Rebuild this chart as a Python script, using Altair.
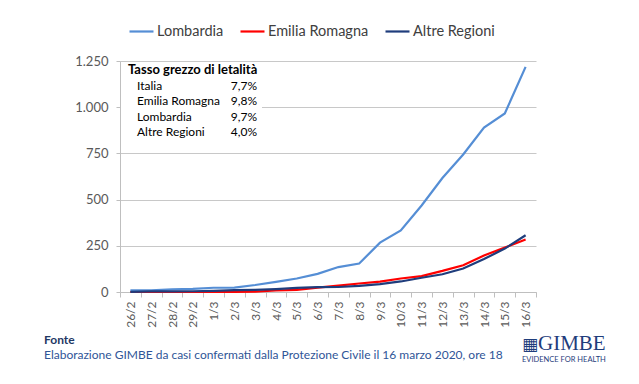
import altair as alt
import pandas as pd

# ---- data ----
dates = ["26/2", "27/2", "28/2", "29/2", "1/3", "2/3", "3/3", "4/3", "5/3", "6/3",
         "7/3", "8/3", "9/3", "10/3", "11/3", "12/3", "13/3", "14/3", "15/3", "16/3"]
series_names = ["Lombardia", "Emilia Romagna", "Altre Regioni"]
lombardia = [9, 9, 14, 17, 23, 24, 38, 55, 73, 98, 135, 154, 267, 333, 468, 617, 744, 890, 966, 1218]
emilia_romagna = [0, 0, 0, 0, 0, 0, 2, 8, 12, 24, 35, 46, 56, 73, 86, 114, 145, 198, 240, 284]
altre_regioni = [1, 3, 3, 4, 6, 10, 12, 16, 22, 26, 27, 33, 43, 57, 77, 96, 127, 178, 235, 307]
colors = ["#558ED5", "#FF0000", "#1F3D7C"]
y_ticks = [0, 250, 500, 750, 1000, 1250]

box_title = ["Tasso grezzo di letalità"]
box_labels = ["Italia", "Emilia Romagna", "Lombardia", "Altre Regioni"]
box_values = ["7,7%", "9,8%", "9,7%", "4,0%"]

source_title = ["Fonte"]
source_text = ["Elaborazione GIMBE da casi confermati dalla Protezione Civile il 16 marzo 2020, ore 18"]
logo_text = ["GIMBE"]
logo_sub = ["EVIDENCE FOR HEALTH"]
logo_icon = ["▦"]

FONT = "Lato"
AXIS_GRAY = "#BFBFBF"
TEXT_GRAY = "#404040"

rows = []
for name, vals in zip(series_names, [lombardia, emilia_romagna, altre_regioni]):
    for d, v in zip(dates, vals):
        rows.append({"data": d, "serie": name, "decessi": v})
df = pd.DataFrame(rows)

lines = alt.Chart(df).mark_line(strokeWidth=2.2).encode(
    x=alt.X("data:N", sort=dates, bandPosition=0.5,
            scale=alt.Scale(type="band", paddingInner=0, paddingOuter=0),
            axis=alt.Axis(title=None, labelAngle=-90, labelAlign="right", labelBaseline="middle",
                          tickBand="extent", grid=False, labelFont=FONT, labelFontSize=12,
                          labelColor="#595959", labelPadding=4, tickSize=5,
                          tickColor=AXIS_GRAY, domainColor=AXIS_GRAY)),
    y=alt.Y("decessi:Q", scale=alt.Scale(domain=[0, 1250], nice=False),
            axis=alt.Axis(title=None, values=y_ticks,
                          labelExpr="replace(format(datum.value, ','), ',', '.')",
                          labelFont=FONT, labelFontSize=13, labelColor="#595959",
                          labelPadding=8, tickSize=4, tickColor=AXIS_GRAY,
                          domainColor=AXIS_GRAY, gridColor="#C8C8C8")),
    color=alt.Color("serie:N", scale=alt.Scale(domain=series_names, range=colors),
                    legend=alt.Legend(title=None, orient="none", legendX=8, legendY=-43,
                                      direction="horizontal", symbolType="stroke",
                                      symbolStrokeWidth=2.2, symbolSize=576,
                                      labelFont=FONT, labelFontSize=14.5, labelColor=TEXT_GRAY,
                                      columnPadding=12, labelOffset=2, padding=0)),
)

one = pd.DataFrame({"k": [0]})

white_box = alt.Chart(one).mark_rect(color="white").encode(
    x=alt.value(1), x2=alt.value(142), y=alt.value(3), y2=alt.value(84)
)

box_t = alt.Chart(pd.DataFrame({"t": box_title})).mark_text(
    align="left", baseline="middle", font=FONT, fontSize=13, fontWeight="bold", color="#000000"
).encode(text="t:N", x=alt.value(8), y=alt.value(9))

box_df = pd.DataFrame({"lab": box_labels, "val": box_values, "i": list(range(len(box_labels)))})
row_scale = alt.Scale(type="point", range=[25, 71], padding=0)
box_l = alt.Chart(box_df).mark_text(
    align="left", baseline="middle", font=FONT, fontSize=12, color="#000000"
).encode(text="lab:N", x=alt.value(17), y=alt.Y("i:O", scale=row_scale, axis=None))
box_v = alt.Chart(box_df).mark_text(
    align="right", baseline="middle", font=FONT, fontSize=12, color="#000000"
).encode(text="val:N", x=alt.value(137), y=alt.Y("i:O", scale=row_scale, axis=None))

src_t = alt.Chart(pd.DataFrame({"t": source_title})).mark_text(
    align="left", baseline="middle", font=FONT, fontSize=12, fontWeight="bold", color="#1F3864"
).encode(text="t:N", x=alt.value(-76), y=alt.value(279))
src_x = alt.Chart(pd.DataFrame({"t": source_text})).mark_text(
    align="left", baseline="middle", font=FONT, fontSize=12, color="#2F5597"
).encode(text="t:N", x=alt.value(-76), y=alt.value(294))

logo_i = alt.Chart(pd.DataFrame({"t": logo_icon})).mark_text(
    align="left", baseline="alphabetic", font="DejaVu Sans", fontSize=17, color="#1F3D7C"
).encode(text="t:N", x=alt.value(402), y=alt.value(289))
logo_t = alt.Chart(pd.DataFrame({"t": logo_text})).mark_text(
    align="left", baseline="alphabetic", font="Liberation Serif", fontSize=21, color="#1F3D7C"
).encode(text="t:N", x=alt.value(418), y=alt.value(289))
logo_s = alt.Chart(pd.DataFrame({"t": logo_sub})).mark_text(
    align="left", baseline="middle", font=FONT, fontSize=7.5, color="#1F3D7C"
).encode(text="t:N", x=alt.value(402), y=alt.value(299))

chart = alt.layer(
    white_box, lines, box_t, box_l, box_v, src_t, src_x, logo_i, logo_t, logo_s
).resolve_scale(y="independent").properties(
    width=416, height=231,
    autosize=alt.AutoSizeParams(type="none"),
    padding={"left": 112, "top": 53, "right": 95, "bottom": 84},
    background="white",
).configure_view(stroke=None)

chart.save("out.html", embed_options={"renderer": "svg", "actions": False})
